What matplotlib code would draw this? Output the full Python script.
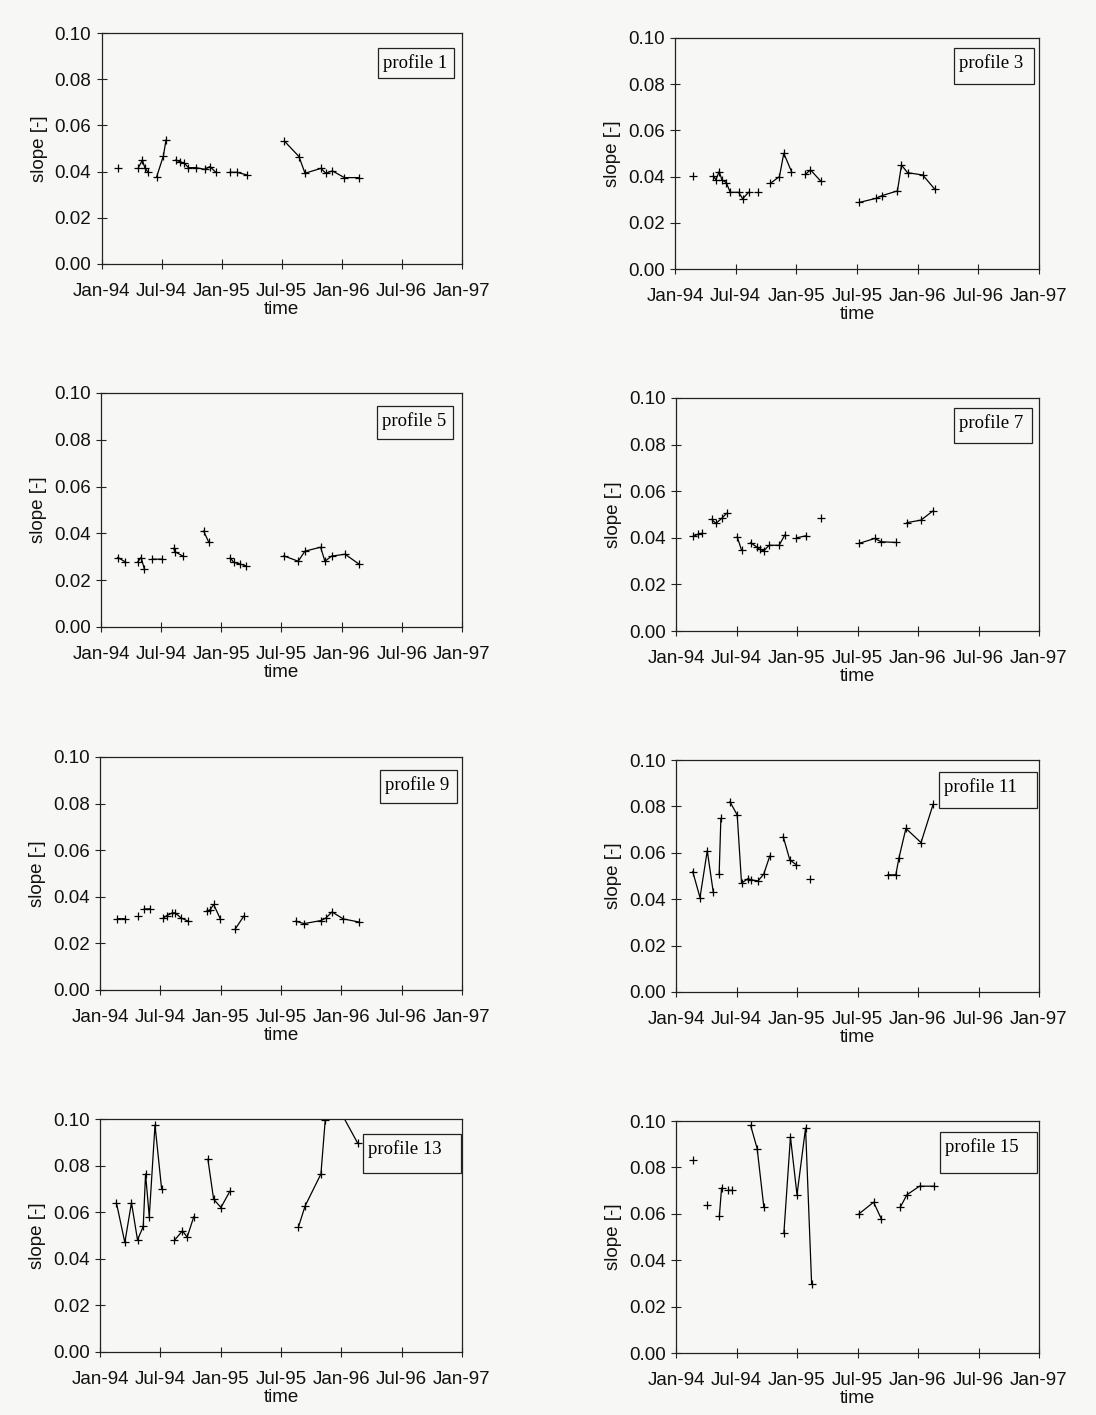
import numpy as np
import matplotlib
matplotlib.use('Agg')
import matplotlib.pyplot as plt
from matplotlib.patches import Rectangle

nan = np.nan

# ---- axis labels / ticks ----
tick_months = [0, 6, 12, 18, 24, 30, 36]
tick_labels = ['Jan-94', 'Jul-94', 'Jan-95', 'Jul-95', 'Jan-96', 'Jul-96', 'Jan-97']
y_ticks = [0.00, 0.02, 0.04, 0.06, 0.08, 0.10]
profile_names = ['profile 1', 'profile 3', 'profile 5', 'profile 7',
                 'profile 9', 'profile 11', 'profile 13', 'profile 15']

# ---- data: months since Jan-94 (nan = gap in survey series) ----
p1_month = [1.6, nan, 3.67, 4.07, 4.33, 4.6, nan, 5.5, 6.17, 6.43, nan,
            7.4, 7.83, 8.27, 8.67, 9.4, 10.33, 10.83, 11.4, nan,
            12.83, 13.5, 14.5, nan,
            18.27, 19.73, 20.33, 21.93, 22.4, 23.07, 24.27, 25.73]
p1_slope = [0.0417, nan, 0.0417, 0.045, 0.0414, 0.040, nan, 0.0378, 0.0468, 0.0537, nan,
            0.045, 0.0443, 0.0436, 0.0417, 0.0417, 0.041, 0.0422, 0.0397, nan,
            0.0397, 0.0397, 0.0386, nan,
            0.0532, 0.0465, 0.0393, 0.0414, 0.0393, 0.0403, 0.0374, 0.0374]

p3_month = [1.75, nan, 3.8, 4.04, 4.37, 4.64, 5.07, 5.46, 6.29, 6.69, 7.28, nan,
            8.2, nan, 9.44, 10.33, 10.76, 11.52, nan, 12.9, 13.4, 14.4, nan,
            18.2, 19.9, 20.5, 22.0, 22.4, 23.0, 24.5, 25.7]
p3_slope = [0.0403, nan, 0.0403, 0.0386, 0.0422, 0.0386, 0.0374, 0.0332, 0.0332, 0.0304, 0.0332, nan,
            0.0332, nan, 0.0371, 0.0400, 0.0501, 0.0422, nan, 0.0410, 0.0429, 0.0381, nan,
            0.0288, 0.0306, 0.0318, 0.0338, 0.0450, 0.0417, 0.0407, 0.0345]

p5_month = [1.67, 2.4, nan, 3.67, 4.0, 4.33, nan, 5.13, 6.13, nan, 7.23, 7.4, 8.13, nan,
            10.23, 10.73, nan, 12.9, 13.23, 13.9, 14.47, nan,
            18.23, 19.67, 20.33, 21.9, 22.33, 23.0, 24.33, 25.73]
p5_slope = [0.0297, 0.0279, nan, 0.0279, 0.0297, 0.0247, nan, 0.029, 0.029, nan, 0.0336, 0.0321, 0.0304, nan,
            0.041, 0.0364, nan, 0.0296, 0.0276, 0.0269, 0.0261, nan,
            0.0304, 0.0281, 0.0324, 0.0341, 0.0281, 0.0303, 0.0311, 0.0269]

p7_month = [1.72, 2.21, 2.54, nan, 3.53, 3.96, 4.52, 5.02, nan, 6.07, 6.5, nan,
            7.39, 7.99, 8.32, 8.71, 9.24, 10.23, 10.79, nan, 11.95, 12.94, nan, 14.42, nan,
            18.15, 19.7, 20.36, 21.85, nan, 22.9, 24.3, 25.5]
p7_slope = [0.0407, 0.0416, 0.0419, nan, 0.0479, 0.0462, 0.0483, 0.0505, nan, 0.0404, 0.0347, nan,
            0.0379, 0.0361, 0.0350, 0.0344, 0.0368, 0.0368, 0.0412, nan, 0.0400, 0.0409, nan, 0.0487, nan,
            0.0376, 0.0397, 0.0383, 0.0380, nan, 0.0465, 0.0476, 0.0516]

p9_month = [1.73, 2.47, nan, 3.73, nan, 4.4, 4.97, nan, 6.3, 6.63, 7.2, 7.47, 8.07, 8.8, nan,
            10.63, 10.97, 11.3, 11.97, nan, 13.47, 14.3, nan,
            19.47, 20.3, 21.97, 22.47, 23.07, 24.2, 25.73]
p9_slope = [0.0306, 0.0306, nan, 0.0319, nan, 0.0348, 0.0348, nan, 0.0309, 0.0319, 0.0331, 0.0331, 0.0309, 0.0295, nan,
            0.0338, 0.0345, 0.0367, 0.0305, nan, 0.0263, 0.0317, nan,
            0.0295, 0.0285, 0.0298, 0.0309, 0.0335, 0.0305, 0.0292]

p11_month = [1.66, 2.38, 3.1, 3.7, nan, 4.28, 4.45, nan,
             5.35, 6.07, 6.5, 7.15, 7.48, 8.14, 8.7, 9.3, nan,
             10.63, 11.29, 11.95, nan, 13.27, nan,
             21.0, 21.8, 22.1, 22.8, 24.3, 25.5]
p11_slope = [0.0519, 0.0407, 0.0609, 0.0429, nan, 0.0508, 0.0748, nan,
             0.0820, 0.0763, 0.0469, 0.0489, 0.0483, 0.0479, 0.0508, 0.0586, nan,
             0.0670, 0.0569, 0.0548, nan, 0.0487, nan,
             0.0505, 0.0505, 0.0576, 0.0705, 0.0644, 0.0809]

p13_month = [1.63, 2.47, 3.13, 3.73, 4.3, 4.53, 4.9, 5.47, 6.13, nan,
             7.4, 8.2, 8.67, 9.33, nan, 10.73, 11.3, 12.03, 12.9, nan,
             19.73, 20.4, 21.97, 22.4, 23.3, 25.63]
p13_slope = [0.0641, 0.0470, 0.0641, 0.0481, 0.0539, 0.0764, 0.0581, 0.0974, 0.0699, nan,
             0.0479, 0.0520, 0.0493, 0.0581, nan, 0.0827, 0.0656, 0.0620, 0.0689, nan,
             0.0536, 0.0627, 0.0764, 0.0996, 0.1080, 0.0896]

p15_month = [1.66, nan, 3.05, nan, 4.3, 4.52, nan, 5.18, 5.51, nan, 7.4, 8.05, 8.71, nan,
             10.7, 11.35, 12.0, 12.85, 13.45, nan, 18.15, 19.6, 20.36, nan,
             22.25, 22.9, 24.15, 25.55]
p15_slope = [0.0830, nan, 0.0639, nan, 0.0590, 0.0711, nan, 0.0701, 0.0701, nan, 0.0981, 0.0881, 0.0629, nan,
             0.0518, 0.0931, 0.0682, 0.0970, 0.0298, nan, 0.0600, 0.0650, 0.0578, nan,
             0.0629, 0.0682, 0.0719, 0.0719]

months = [p1_month, p3_month, p5_month, p7_month, p9_month, p11_month, p13_month, p15_month]
slopes = [p1_slope, p3_slope, p5_slope, p7_slope, p9_slope, p11_slope, p13_slope, p15_slope]

# ---- layout (pixel boxes of axes: left, right, top, bottom) ----
W, H = 1096, 1415
axes_px = [(101.7, 461.7, 33, 264), (675, 1039, 38, 269),
           (101, 462, 393, 627), (676, 1039, 398, 631),
           (100, 462, 757, 990), (676, 1039, 760, 992),
           (100, 462, 1119, 1352), (676, 1039, 1121, 1353)]
box_px = [(378, 454, 48, 78), (954, 1034, 48, 84),
          (377, 453, 406, 439), (954, 1032, 408, 443),
          (380, 457, 770, 803), (939, 1037, 772, 808),
          (363, 461, 1134, 1173), (940, 1037, 1132, 1173)]

bg = '#f7f7f5'
sans = ['Liberation Sans', 'DejaVu Sans']
serif = ['Liberation Serif', 'DejaVu Serif']
fs = 13.5

fig = plt.figure(figsize=(W / 100, H / 100), dpi=100, facecolor=bg)

for i in range(8):
    l, r, t, b = axes_px[i]
    ax = fig.add_axes([l / W, 1 - b / H, (r - l) / W, (b - t) / H])
    ax.set_facecolor(bg)
    ax.plot(months[i], slopes[i], color='black', lw=0.9, marker='+',
            markersize=6, markeredgewidth=0.9)
    ax.set_xlim(0, 36)
    ax.set_ylim(0, 0.10)
    ax.set_xticks(tick_months)
    ax.set_xticklabels(tick_labels, fontsize=fs, family=sans, color='#111111')
    ax.set_yticks(y_ticks)
    ax.set_yticklabels([f'{v:.2f}' for v in y_ticks], fontsize=fs, family=sans, color='#111111')
    ax.tick_params(axis='both', direction='inout', length=7, width=0.8, color='#222222')
    ax.tick_params(axis='x', pad=10)
    ax.tick_params(axis='y', pad=4)
    for sp in ax.spines.values():
        sp.set_linewidth(0.9)
        sp.set_color('#222222')
    ax.set_xlabel('time', fontsize=fs, family=sans, labelpad=1, color='#111111')
    ax.set_ylabel('slope [-]', fontsize=fs, family=sans, labelpad=5, color='#111111')

    bl, br, bt, bb = box_px[i]
    fig.patches.append(Rectangle((bl / W, 1 - bb / H), (br - bl) / W, (bb - bt) / H,
                                 transform=fig.transFigure, facecolor=bg,
                                 edgecolor='#222222', linewidth=0.9, zorder=5))
    ty = bt + min((bb - bt) / 2, 15)
    fig.text((bl + 5) / W, 1 - ty / H, profile_names[i], fontsize=13.5,
             family=serif, va='center', ha='left', zorder=6)

fig.savefig('out.png', dpi=100, facecolor=bg)
